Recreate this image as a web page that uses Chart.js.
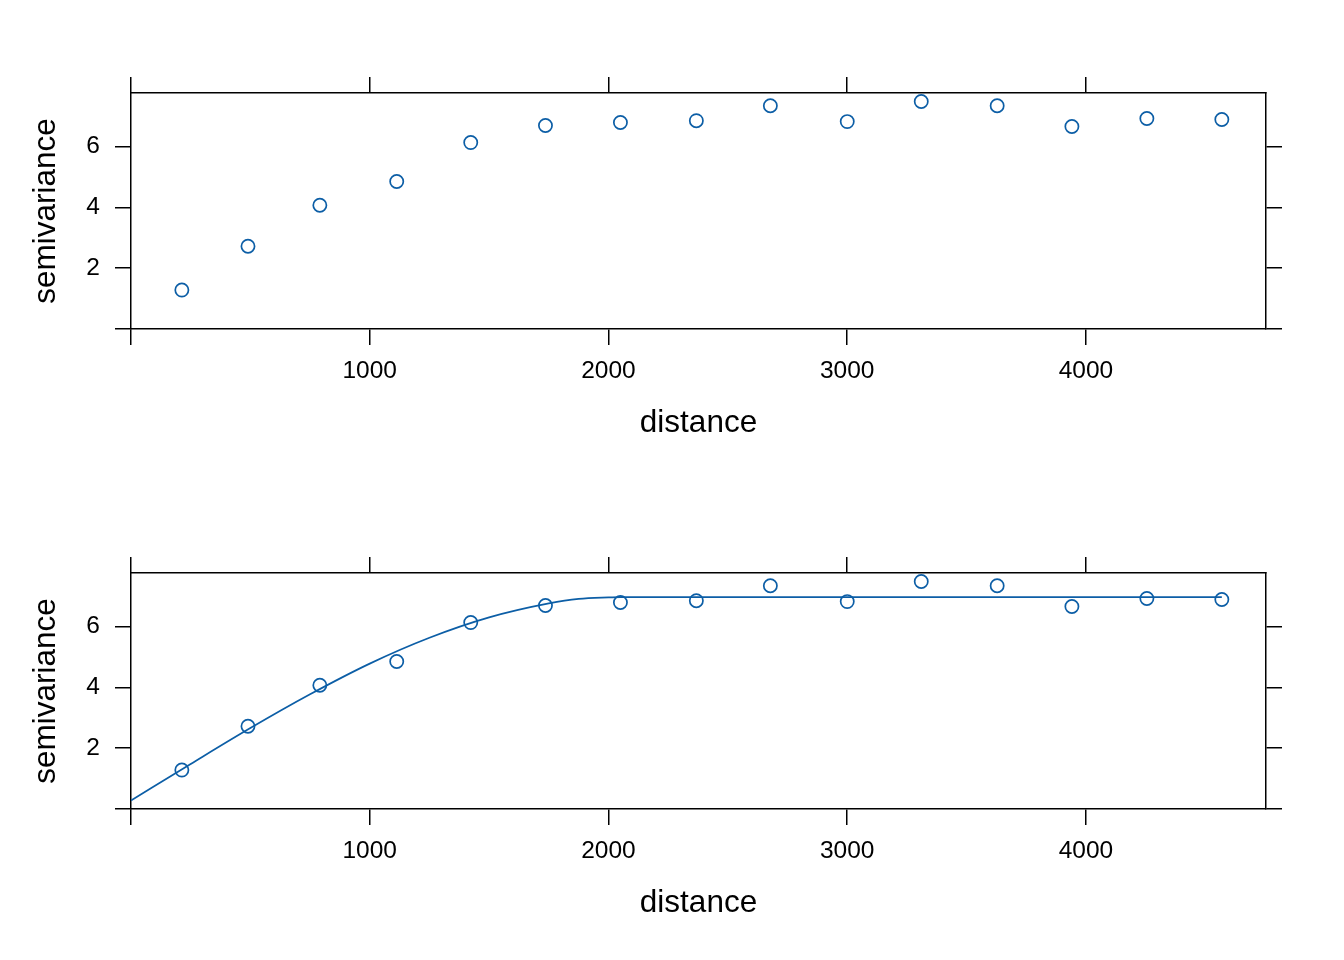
<!DOCTYPE html>
<html>
<head>
<meta charset="utf-8">
<script src="https://cdn.jsdelivr.net/npm/chart.js@4"></script>
<style>
    html, body { margin: 0; padding: 0; background: #ffffff; }
    .panel { position: absolute; left: 0; width: 1344px; height: 480px; }
</style>
</head>
<body>
<canvas id="topChart" class="panel" width="1344" height="480" style="top:0"></canvas>
<canvas id="bottomChart" class="panel" width="1344" height="480" style="top:480px"></canvas>
<script>
// sample variogram: lag distance and semivariance
const distance = [213, 490, 791, 1113, 1423, 1736, 2050, 2368, 2678, 3000, 3310, 3628, 3941, 4255, 4569];
const semivariance = [1.28, 2.72, 4.07, 4.85, 6.13, 6.69, 6.79, 6.85, 7.34, 6.82, 7.48, 7.34, 6.66, 6.92, 6.89];

// fitted model line
const fitDistance = [0, 250, 500, 750, 1000, 1250, 1500, 1750, 1875, 2000, 2050, 4569];
const fitSemivariance = [0.28, 1.48, 2.66, 3.77, 4.78, 5.63, 6.30, 6.76, 6.91, 6.96, 6.97, 6.97];

const xTicks = [0, 1000, 2000, 3000, 4000];
const yTicks = [0, 2, 4, 6];

const X_MIN = 0, X_MAX = 4754;
const Y_MIN = 0, Y_MAX = 7.76;

const BLUE = '#0c5ea6';
const FONT = "'Liberation Sans', Arial, Helvetica, sans-serif";

Chart.defaults.font.family = FONT;
Chart.defaults.color = '#000000';

const fixSize = (prop, size) => (scale) => { scale[prop] = size; };

const tickGrid = {
    display: true,
    drawOnChartArea: false,
    drawTicks: true,
    tickLength: 16,
    color: '#000000',
    lineWidth: 1.5,
};
const frame = { display: true, color: '#000000', width: 1.5 };

const hideZero = (value) => (value === 0 ? '' : value);

const buildScales = () => ({
    x: {
        type: 'linear',
        position: 'bottom',
        min: X_MIN,
        max: X_MAX,
        afterBuildTicks: (scale) => { scale.ticks = xTicks.map(v => ({ value: v })); },
        ticks: { callback: hideZero, font: { size: 24.5 }, padding: 11.5, maxRotation: 0, autoSkip: false, color: '#000' },
        grid: tickGrid,
        border: frame,
        title: { display: true, text: 'distance', font: { size: 31.5 }, color: '#000', padding: { top: 0, bottom: 38 } },
        afterFit: fixSize('height', 151),
    },
    x2: {
        type: 'linear',
        position: 'top',
        min: X_MIN,
        max: X_MAX,
        afterBuildTicks: (scale) => { scale.ticks = xTicks.map(v => ({ value: v })); },
        ticks: { display: false },
        grid: tickGrid,
        border: frame,
        afterFit: fixSize('height', 93),
    },
    y: {
        type: 'linear',
        position: 'left',
        min: Y_MIN,
        max: Y_MAX,
        afterBuildTicks: (scale) => { scale.ticks = yTicks.map(v => ({ value: v })); },
        ticks: { callback: hideZero, font: { size: 24.5 }, padding: 15, color: '#000' },
        grid: tickGrid,
        border: frame,
        title: { display: true, text: 'semivariance', font: { size: 31.5 }, color: '#000', padding: { top: 27, bottom: 0 } },
        afterFit: fixSize('width', 131),
    },
    y2: {
        type: 'linear',
        position: 'right',
        min: Y_MIN,
        max: Y_MAX,
        afterBuildTicks: (scale) => { scale.ticks = yTicks.map(v => ({ value: v })); },
        ticks: { display: false },
        grid: tickGrid,
        border: frame,
        afterFit: fixSize('width', 78),
    },
});

const pointsDataset = () => ({
    type: 'scatter',
    label: 'sample',
    data: distance.map((d, i) => ({ x: d, y: semivariance[i] })),
    showLine: false,
    pointStyle: 'circle',
    pointRadius: 6.6,
    pointBorderWidth: 1.7,
    borderColor: BLUE,
    backgroundColor: 'rgba(0,0,0,0)',
    order: 1,
});

const modelDataset = () => ({
    type: 'line',
    label: 'model',
    data: fitDistance.map((d, i) => ({ x: d, y: fitSemivariance[i] })),
    borderColor: BLUE,
    borderWidth: 1.7,
    pointRadius: 0,
    fill: false,
    cubicInterpolationMode: 'monotone',
    order: 2,
});

const makeChart = (canvasId, datasets) => new Chart(document.getElementById(canvasId), {
    type: 'scatter',
    data: { datasets },
    options: {
        responsive: false,
        devicePixelRatio: 1,
        animation: false,
        layout: { padding: 0 },
        plugins: { legend: { display: false }, tooltip: { enabled: false } },
        scales: buildScales(),
    },
});

makeChart('topChart', [pointsDataset()]);
makeChart('bottomChart', [pointsDataset(), modelDataset()]);
</script>
</body>
</html>
